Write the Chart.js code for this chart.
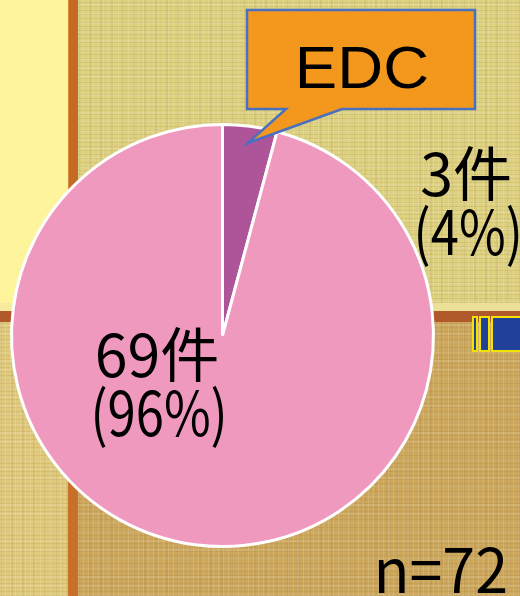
<!DOCTYPE html>
<html lang="ja">
<head>
<meta charset="utf-8">
<script src="https://cdn.jsdelivr.net/npm/chart.js@4.4.1/dist/chart.umd.min.js"></script>
<style>
  html, body { margin: 0; padding: 0; background: #fff; }
  #wrap { position: relative; width: 520px; height: 596px; overflow: hidden; }
  .bg { position: absolute; }
  .tatami {
    background-image:
      repeating-linear-gradient(0deg, rgba(120,90,20,0.10) 0 1px, transparent 1px 4px),
      repeating-linear-gradient(90deg, rgba(255,255,255,0.14) 0 1px, transparent 1px 5px),
      repeating-linear-gradient(0deg, rgba(255,255,255,0.10) 0 2px, transparent 2px 9px),
      repeating-linear-gradient(90deg, rgba(120,90,20,0.08) 0 2px, transparent 2px 11px);
  }
  #yellow { left: 0; top: 0; width: 68px; height: 303px; background: #fdf49b; }
  #vbarTop { left: 68px; top: 0; width: 10px; height: 311px; background: #c46a25; box-shadow: inset 1px 0 0 #d8893c; }
  #tatamiTop { left: 78px; top: 0; width: 442px; height: 303px; background-color: #ddd07f; }
  #strip { left: 0; top: 303px; width: 520px; height: 8px; background: #ebe096; }
  #stripL { left: 0; top: 303px; width: 68px; height: 8px; background: #f6eb9c; }
  #hbar { left: 0; top: 311px; width: 520px; height: 11px; background: #b0592a; }
  #tatamiBL { left: 0; top: 322px; width: 68px; height: 274px; background-color: #dfc97b; }
  #vbarBot { left: 68px; top: 322px; width: 10px; height: 274px; background: #c8702a; }
  #tatamiBR { left: 78px; top: 322px; width: 442px; height: 274px; background-color: #cca65b; }
  .heri { position: absolute; top: 316px; height: 32px; background: #20409a; border: 2px solid #f2e300; }
  canvas { position: absolute; left: 0; top: 0; }
</style>
</head>
<body>
<div id="wrap">
  <div class="bg" id="yellow"></div>
  <div class="bg tatami" id="tatamiTop"></div>
  <div class="bg" id="vbarTop"></div>
  <div class="bg" id="strip"></div>
  <div class="bg" id="stripL"></div>
  <div class="bg" id="hbar"></div>
  <div class="bg tatami" id="tatamiBL"></div>
  <div class="bg" id="vbarBot"></div>
  <div class="bg tatami" id="tatamiBR"></div>
  <div class="heri" style="left:472px;width:2px;"></div>
  <div class="heri" style="left:479px;width:7px;"></div>
  <div class="heri" style="left:491px;width:40px;"></div>
  <canvas id="pieChart" width="520" height="596"></canvas>
</div>
<script>
// データ
const categories = ['EDC', 'その他'];
const counts = [3, 69];
const sliceColors = ['#ae5599', '#f099be'];
const calloutText = 'EDC';
const totalLabel = 'n=72';

const total = counts.reduce((a, b) => a + b, 0);
const JP_FONT = '"Noto Sans CJK JP", "Noto Sans", sans-serif';

// ラベル・吹き出しを描くプラグイン
const labelPlugin = {
  id: 'labelPlugin',
  afterDatasetsDraw(chart) {
    const ctx = chart.ctx;
    const arcs = chart.getDatasetMeta(0).data;
    const cx = arcs[0].x, cy = arcs[0].y, r = arcs[0].outerRadius;

    // 吹き出し (EDC)
    const a0 = arcs[0];
    const mid = (a0.startAngle + a0.endAngle) / 2;
    const tipX = cx + Math.cos(mid) * r * 0.92;
    const tipY = cy + Math.sin(mid) * r * 0.92;
    const bx = 247, by = 10, bw = 228, bh = 99;
    ctx.save();
    ctx.beginPath();
    ctx.moveTo(bx, by);
    ctx.lineTo(bx + bw, by);
    ctx.lineTo(bx + bw, by + bh);
    ctx.lineTo(bx + 95, by + bh);
    ctx.lineTo(tipX, tipY);
    ctx.lineTo(bx + 39, by + bh);
    ctx.lineTo(bx, by + bh);
    ctx.closePath();
    ctx.fillStyle = '#f3981d';
    ctx.fill();
    ctx.lineWidth = 2.5;
    ctx.lineJoin = 'miter';
    ctx.strokeStyle = '#4a70c2';
    ctx.stroke();
    ctx.fillStyle = '#000';
    ctx.font = '400 60px "Liberation Sans", Arial, sans-serif';
    ctx.textAlign = 'center';
    ctx.textBaseline = 'alphabetic';
    ctx.translate(bx + bw / 2 + 1, 88);
    ctx.scale(1.06, 1);
    ctx.fillText(calloutText, 0, 0);
    ctx.restore();

    // 件数ラベル
    const drawLabel = (i, x, y) => {
      const pct = Math.round(counts[i] / total * 100);
      ctx.save();
      ctx.fillStyle = '#000';
      ctx.font = '400 59px ' + JP_FONT;
      ctx.textAlign = 'center';
      ctx.textBaseline = 'alphabetic';
      ctx.fillText(counts[i] + '件', x, y);
      ctx.translate(x + 2, y + 59);
      ctx.scale(0.86, 1.04);
      ctx.fillText('(' + pct + '%)', 0, 0);
      ctx.restore();
    };
    drawLabel(0, cx + r * 1.155, cy - r * 0.66);
    drawLabel(1, cx - r * 0.31, cy + r * 0.195);

    // n=72
    ctx.save();
    ctx.fillStyle = '#000';
    ctx.font = '400 61px ' + JP_FONT;
    ctx.textAlign = 'right';
    ctx.textBaseline = 'alphabetic';
    ctx.translate(508, 593);
    ctx.scale(0.97, 1);
    ctx.fillText(totalLabel, 0, 0);
    ctx.restore();
  }
};

const ctx = document.getElementById('pieChart').getContext('2d');
const pieChart = new Chart(ctx, {
  type: 'pie',
  data: {
    labels: categories,
    datasets: [{
      data: counts,
      backgroundColor: sliceColors,
      borderColor: '#ffffff',
      borderWidth: 3
    }]
  },
  options: {
    responsive: false,
    animation: false,
    layout: {
      padding: { left: 10, top: 123, right: 85, bottom: 48 }
    },
    plugins: {
      legend: { display: false },
      tooltip: { enabled: false }
    }
  },
  plugins: [labelPlugin]
});
</script>
</body>
</html>
